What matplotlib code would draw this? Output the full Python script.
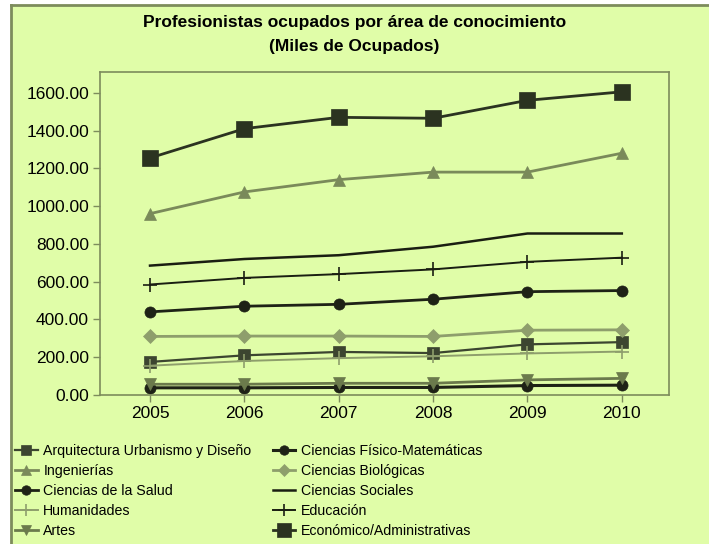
import matplotlib.pyplot as plt
from matplotlib.lines import Line2D

years = [2005, 2006, 2007, 2008, 2009, 2010]

arquitectura = [175, 210, 228, 222, 268, 280]
fisico_mat = [38, 38, 40, 40, 50, 52]
ingenierias = [960, 1075, 1140, 1180, 1180, 1280]
biologicas = [310, 312, 312, 310, 343, 345]
salud = [440, 470, 480, 507, 547, 553]
sociales = [685, 720, 740, 785, 855, 855]
humanidades = [155, 180, 195, 205, 220, 230]
educacion = [585, 620, 640, 665, 705, 727]
artes = [57, 57, 62, 62, 80, 88]
economico = [1255, 1410, 1470, 1465, 1560, 1605]

y_ticks = [0, 200, 400, 600, 800, 1000, 1200, 1400, 1600]

bg = '#e0fda8'
frame = '#7d8c5c'

fig = plt.figure(figsize=(7.09, 5.44), dpi=100)
fig.patch.set_facecolor('white')
W, H = 709, 544

# fondo verde con borde arriba e izquierda
fig.patches.append(plt.Rectangle((11 / W, 0), 1, 1 - 5 / H, transform=fig.transFigure,
                                 facecolor=bg, edgecolor='none', zorder=-5))
fig.lines.append(Line2D([11 / W, 11 / W], [0, 1 - 5 / H], transform=fig.transFigure,
                        color=frame, lw=2, zorder=-4))
fig.lines.append(Line2D([11 / W, 1], [1 - 5 / H, 1 - 5 / H], transform=fig.transFigure,
                        color=frame, lw=2, zorder=-4))

ax = fig.add_axes([100 / W, 1 - 395 / H, 569 / W, 323 / H])
ax.set_facecolor(bg)

# (datos, etiqueta, color, marcador, tamaño, grosor)
series = [
    (arquitectura, 'Arquitectura Urbanismo y Diseño', '#3c4530', 's', 8, 1.6),
    (fisico_mat, 'Ciencias Físico-Matemáticas', '#1e2216', 'o', 8, 2.2),
    (ingenierias, 'Ingenierías', '#7a8a5a', '^', 8, 2.0),
    (biologicas, 'Ciencias Biológicas', '#8e9e6c', 'D', 7, 2.0),
    (salud, 'Ciencias de la Salud', '#1e2216', 'o', 8, 2.0),
    (sociales, 'Ciencias Sociales', '#1a1e12', None, 0, 1.8),
    (humanidades, 'Humanidades', '#8e9e6c', '+', 10, 1.4),
    (educacion, 'Educación', '#1a1e12', '+', 10, 1.4),
    (artes, 'Artes', '#6b7a4c', 'v', 8, 2.0),
    (economico, 'Económico/Administrativas', '#2b3320', 's', 12, 2.0),
]

handles = []
for data, label, color, marker, ms, lw in series:
    h, = ax.plot(years, data, color=color, marker=marker, markersize=ms, lw=lw,
                 label=label, markeredgewidth=1.2 if marker == '+' else 0.5)
    handles.append(h)

ax.set_xlim(2004.47, 2010.5)
ax.set_ylim(0, 1710)
ax.set_xticks(years)
ax.set_yticks(y_ticks)
ax.set_yticklabels(['%.2f' % v for v in y_ticks])
for s in ax.spines.values():
    s.set_color(frame)
    s.set_linewidth(1.2)
ax.tick_params(colors=frame, labelcolor='black', labelsize=12.5, length=5, width=1, pad=3)
for lab in ax.get_xticklabels() + ax.get_yticklabels():
    lab.set_family('Liberation Sans')

fig.text(0.5, 1 - 22 / H, 'Profesionistas ocupados por área de conocimiento',
         ha='center', va='center', fontsize=12.5, fontweight='bold', family='Liberation Sans')
fig.text(0.5, 1 - 47 / H, '(Miles de Ocupados)',
         ha='center', va='center', fontsize=12.5, fontweight='bold', family='Liberation Sans')

# leyenda por filas: matplotlib llena por columnas, se reordena
order = handles[0::2] + handles[1::2]
fig.legend(handles=order, loc='upper left', bbox_to_anchor=(15 / W, 1 - 444 / H), ncol=2,
           frameon=False, prop={'family': 'Liberation Sans', 'size': 10.2},
           borderpad=0, borderaxespad=0,
           handlelength=1.6, handletextpad=0.4, columnspacing=1.5,
           labelspacing=0.42, markerscale=0.85)

fig.savefig('out.png', dpi=100, facecolor=fig.get_facecolor())
